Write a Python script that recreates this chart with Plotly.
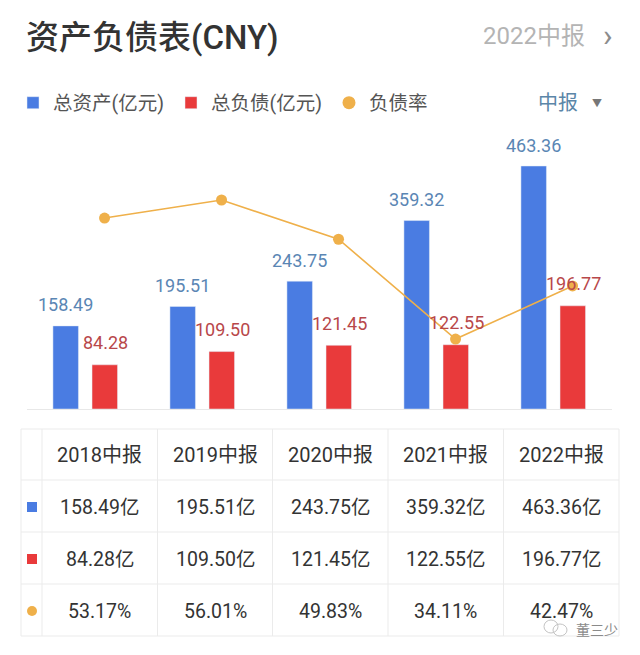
import plotly.graph_objects as go

W = 640
H = 655
FONT = "Roboto, 'Noto Sans CJK SC', sans-serif"

years = ["2018中报", "2019中报", "2020中报", "2021中报", "2022中报"]
total_assets = [158.49, 195.51, 243.75, 359.32, 463.36]
total_debt = [84.28, 109.50, 121.45, 122.55, 196.77]
debt_ratio = [53.17, 56.01, 49.83, 34.11, 42.47]

BLUE = "#4a7ce2"
RED = "#e93a3b"
ORANGE = "#efb04a"
GRID = "#ebebeb"

# table grid, in pixels of the page
col_lines = [21, 42, 157.5, 272.5, 388, 503.5, 619]
row_lines = [429, 480, 532, 584, 636]


def px_x(v):
    return v / W


def px_y(v):
    return 1 - v / H


fig = go.Figure()

fig.add_trace(go.Bar(
    x=years, y=total_assets, name="总资产(亿元)", marker_color=BLUE,
    width=0.218, offset=-0.274,
))
fig.add_trace(go.Bar(
    x=years, y=total_debt, name="总负债(亿元)", marker_color=RED,
    width=0.218, offset=0.06,
))
# the line sits over the red bars, so it has its own shifted x axis
fig.add_trace(go.Scatter(
    x=years, y=debt_ratio, mode="lines+markers", name="负债率", showlegend=False,
    line=dict(color=ORANGE, width=1.6), marker=dict(color=ORANGE, size=11),
    xaxis="x2", yaxis="y2",
))
# only for the legend, dot without the line
fig.add_trace(go.Scatter(
    x=[None], y=[None], mode="markers", name="负债率",
    marker=dict(color=ORANGE, size=13), xaxis="x2", yaxis="y2",
))

annotations = []
shapes = []

for i, year in enumerate(years):
    annotations.append(dict(
        x=year, y=total_assets[i], xref="x", yref="y", text=f"{total_assets[i]:.2f}",
        xshift=-20, yshift=21, showarrow=False,
        font=dict(family=FONT, size=18, color="#5a86b4"),
    ))
    annotations.append(dict(
        x=year, y=total_debt[i], xref="x", yref="y", text=f"{total_debt[i]:.2f}",
        xshift=20, yshift=22, showarrow=False,
        font=dict(family=FONT, size=18, color="#b8474a"),
    ))


def label(x, y, text, size, color, anchor="left", weight=None):
    annotations.append(dict(
        x=px_x(x), y=px_y(y), xref="paper", yref="paper", text=text, showarrow=False,
        xanchor=anchor, yanchor="middle",
        font=dict(family=FONT, size=size, color=color, weight=weight),
    ))


def paper_shape(kind, x0, y0, x1, y1, **kw):
    shapes.append(dict(
        type=kind, xref="paper", yref="paper",
        x0=px_x(x0), y0=px_y(y0), x1=px_x(x1), y1=px_y(y1), **kw,
    ))


label(24, 37, "资产负债表(CNY)", 33, "#333333", weight=500)
label(587, 36, "2022中报", 24, "#b4b4b4", anchor="right")
label(608, 35, "›", 32, "#8c8c8c", anchor="center")
label(580, 103, "中报", 20, "#5b86a8", anchor="right")
label(597, 104, "▼", 10, "#777777", anchor="center")

# table
for x in col_lines:
    paper_shape("line", x, row_lines[0], x, row_lines[-1], line=dict(color=GRID, width=1))
for y in row_lines:
    paper_shape("line", col_lines[0], y, col_lines[-1], y, line=dict(color=GRID, width=1))

for i, year in enumerate(years):
    cx = (col_lines[i + 1] + col_lines[i + 2]) / 2
    label(cx, 455, year, 20, "#333333", anchor="center")
    label(cx, 507, f"{total_assets[i]:.2f}亿", 19.5, "#333333", anchor="center")
    label(cx, 559, f"{total_debt[i]:.2f}亿", 19.5, "#333333", anchor="center")
    label(cx, 611, f"{debt_ratio[i]:.2f}%", 19.5, "#333333", anchor="center")

paper_shape("rect", 27, 502, 37, 512, fillcolor=BLUE, line_width=0)
paper_shape("rect", 27, 554, 37, 564, fillcolor=RED, line_width=0)
paper_shape("circle", 27, 606, 37, 616, fillcolor=ORANGE, line_width=0)

# watermark
paper_shape("circle", 544, 620, 558, 633, line=dict(color="#c4c4c4", width=1))
paper_shape("circle", 553, 624, 567, 636, line=dict(color="#c4c4c4", width=1))
label(620, 630, "董三少", 14, "#8a8a8a", anchor="right")

fig.update_layout(
    width=W, height=H,
    margin=dict(l=0, r=0, t=0, b=0),
    paper_bgcolor="white", plot_bgcolor="white",
    font=dict(family=FONT),
    annotations=annotations,
    shapes=shapes,
    showlegend=True,
    legend=dict(
        orientation="h", x=px_x(13), y=px_y(103), xanchor="left", yanchor="middle",
        entrywidth=113, entrywidthmode="pixels", traceorder="normal",
        font=dict(family=FONT, size=19.5, color="#555555"), bgcolor="rgba(0,0,0,0)",
    ),
    xaxis=dict(
        domain=[px_x(26.5), px_x(611.5)], type="category", showticklabels=False,
        ticks="", showgrid=False, zeroline=False, showline=True, linecolor="#e8e8e8", linewidth=1,
    ),
    xaxis2=dict(
        domain=[px_x(26.5), px_x(611.5)], type="category", range=[-0.667, 4.333],
        visible=False, overlaying="x", anchor="y2",
    ),
    yaxis=dict(domain=[px_y(409), px_y(130)], range=[0, 532], visible=False),
    yaxis2=dict(
        domain=[px_y(409), px_y(130)], range=[23.1, 67.03], visible=False,
        overlaying="y", side="right", anchor="x2",
    ),
)

# the page's default body margin would push the chart 8px in
fig.write_html(
    "out.html",
    config={"displayModeBar": False},
    post_script="document.body.style.margin = '0';",
)
